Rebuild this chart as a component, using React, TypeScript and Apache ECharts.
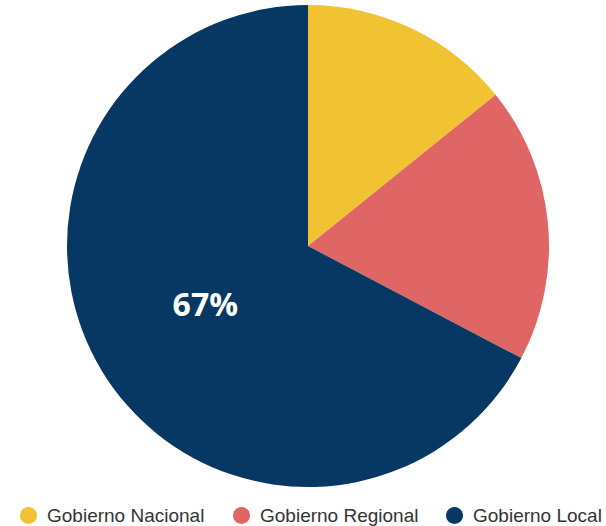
import React, { useEffect, useRef } from "react";
import * as echarts from "echarts";

const categories = ["Gobierno Nacional", "Gobierno Regional", "Gobierno Local"];
const values = [14.2, 18.5, 67.3];
const colors = ["#F1C232", "#E06666", "#073763"];
const labelShown = [false, false, true];
const legendLefts = [20, 233, 446];

export default function App() {
  const ref = useRef<HTMLDivElement>(null);
  useEffect(() => {
    const chart = echarts.init(ref.current!, undefined, { renderer: "svg" });
    chart.setOption({
      animation: false,
      color: colors,
      legend: categories.map((c, i) => ({
        top: 506,
        left: legendLefts[i],
        padding: 0,
        icon: "circle",
        itemWidth: 27,
        itemHeight: 17,
        textStyle: { fontSize: 19, color: "#333", fontFamily: "Liberation Sans, Arial, sans-serif" },
        data: [c],
      })),
      series: [
        {
          type: "pie",
          center: [308, 246],
          radius: 241,
          startAngle: 90,
          clockwise: true,
          label: {
            position: "inside",
            color: "#fff",
            fontSize: 32,
            fontWeight: "bold",
            fontFamily: "Open Sans, sans-serif",
            offset: [3, -6],
            formatter: (p: any) => (labelShown[p.dataIndex] ? Math.round(p.percent) + "%" : ""),
          },
          labelLine: { show: false },
          emphasis: { disabled: true },
          data: categories.map((c, i) => ({ name: c, value: values[i] })),
        },
      ],
    });
    return () => chart.dispose();
  }, []);
  return <div ref={ref} style={{ position: "absolute", left: 0, top: 0, width: 606, height: 526 }} />;
}
